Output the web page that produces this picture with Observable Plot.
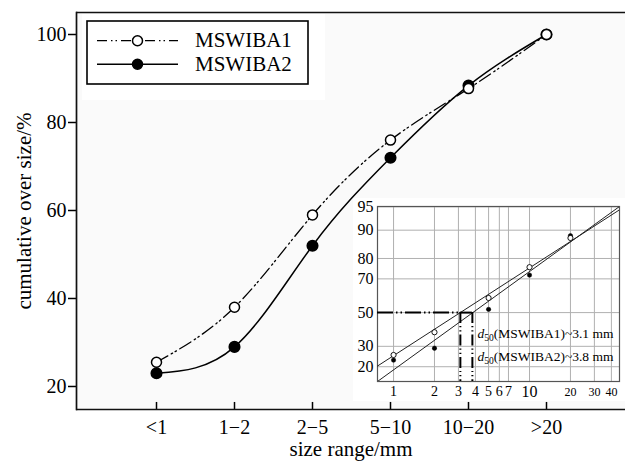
<!DOCTYPE html>
<html><head><meta charset="utf-8">
<script src="https://cdn.jsdelivr.net/npm/d3@7"></script>
<script src="https://cdn.jsdelivr.net/npm/@observablehq/plot@0.6"></script>
<style>
body{margin:0;background:#fff;}
#wrap{position:relative;width:625px;height:462px;overflow:hidden;font-family:"Liberation Serif","Times New Roman",serif;}
#wrap svg{position:absolute;}
</style></head><body><div id="wrap"></div>
<script>
// ---- data ----
const categories = ["<1", "1−2", "2−5", "5−10", "10−20", ">20"];
const seriesNames = ["MSWIBA1", "MSWIBA2"];
const mswiba1 = [25.5, 38, 59, 76, 87.7, 100];
const mswiba2 = [23, 29, 52, 72, 88.4, 100];
const yTicks = [20, 40, 60, 80, 100];
// inset (log-probability plot)
const insetSizes = [1, 2, 5, 10, 20];
const insetYTicks = [20, 30, 50, 70, 80, 90, 95];
const insetXTicks = [1, 2, 3, 4, 5, 6, 7, 10, 20, 30, 40];
const d50 = [3.1, 3.8];
const fitX = [0.762, 45.9];
const fit1 = [20.3, 94.5];
const fit2 = [14.2, 95.05];

const FONT = '"Liberation Serif","Times New Roman",serif';
const wrap = document.getElementById("wrap");

// ---- main plot ----
const yMin = 14.77, yMax = 105;
const s1 = categories.map((c, i) => ({cat: c, v: mswiba1[i]}));
const s2 = categories.map((c, i) => ({cat: c, v: mswiba2[i]}));

const main = Plot.plot({
  width: 625, height: 462,
  marginLeft: 76, marginTop: 12, marginBottom: 53, marginRight: 0,
  style: {fontFamily: FONT, background: "transparent", color: "black"},
  x: {type: "point", domain: categories, padding: 1},
  y: {domain: [yMin, yMax]},
  marks: [
    Plot.frame({fill: "#fafafa", stroke: null}),
    Plot.line(s2, {x: "cat", y: "v", curve: "natural", stroke: "black", strokeWidth: 1.5}),
    Plot.line(s1, {x: "cat", y: "v", curve: "natural", stroke: "black", strokeWidth: 1.3, strokeDasharray: "13,4,1.5,3,1.5,4"}),
    Plot.dot(s2, {x: "cat", y: "v", r: 5.3, fill: "black", stroke: "black"}),
    Plot.dot(s1, {x: "cat", y: "v", r: 5, fill: "white", stroke: "black", strokeWidth: 1.5}),
    Plot.axisY(yTicks, {tickSize: 8, tickPadding: 2, fontSize: 20, label: null, strokeWidth: 1.5}),
    Plot.axisX({tickSize: 0, tickPadding: 10, fontSize: 20, label: null}),
    Plot.ruleX(categories, {x: d => d, y1: yMin, y2: yMin + 1.6, stroke: "black", strokeWidth: 1.5}),
    Plot.ruleY([yMin, yMax], {stroke: "#111", strokeWidth: 1.7}),
    Plot.frame({anchor: "left", stroke: "#111", strokeWidth: 1.7}),
    Plot.text(["cumulative over size/%"], {frameAnchor: "left", rotate: -90, dx: -52, textAnchor: "middle", lineAnchor: "middle", fontSize: 21, text: d => d}),
    Plot.text(["size range/mm"], {frameAnchor: "bottom", dy: 40, textAnchor: "middle", lineAnchor: "middle", fontSize: 21, text: d => d})
  ]
});
main.style.left = "0px"; main.style.top = "0px";
wrap.appendChild(main);

// ---- legend ----
const leg = d3.create("svg").attr("width", 250).attr("height", 90)
  .style("left", "80px").style("top", "12px");
leg.append("rect").attr("x", 2).attr("y", 2).attr("width", 243).attr("height", 86).attr("fill", "white");
leg.append("rect").attr("x", 7).attr("y", 9).attr("width", 221).attr("height", 63)
  .attr("fill", "white").attr("stroke", "black").attr("stroke-width", 1.6);
const rowsY = [28.7, 52.3];
seriesNames.forEach((name, i) => {
  const g = leg.append("g");
  g.append("line").attr("x1", 17).attr("x2", 98).attr("y1", rowsY[i]).attr("y2", rowsY[i])
    .attr("stroke", "black").attr("stroke-width", i === 0 ? 1.3 : 1.5)
    .attr("stroke-dasharray", i === 0 ? "10,4,1.5,3,1.5,4" : null);
  g.append("circle").attr("cx", 57.5).attr("cy", rowsY[i]).attr("r", 5)
    .attr("fill", i === 0 ? "white" : "black").attr("stroke", "black").attr("stroke-width", 1.5);
  g.append("text").attr("x", 115).attr("y", rowsY[i] + 6.7).attr("font-size", 21)
    .attr("font-family", FONT).text(name);
});
wrap.appendChild(leg.node());

// ---- inset ----
function probit(p) {
  const a=[-3.969683028665376e+01,2.209460984245205e+02,-2.759285104469687e+02,1.383577518672690e+02,-3.066479806614716e+01,2.506628277459239e+00];
  const b=[-5.447609879822406e+01,1.615858368580409e+02,-1.556989798598866e+02,6.680131188771972e+01,-1.328068155288572e+01];
  const c=[-7.784894002430293e-03,-3.223964580411365e-01,-2.400758277161838e+00,-2.549732539343734e+00,4.374664141464968e+00,2.938163982698783e+00];
  const d=[7.784695709041462e-03,3.224671290700398e-01,2.445134137142996e+00,3.754408661907416e+00];
  const pl = 0.02425, ph = 1 - pl;
  let q, r;
  if (p < pl) { q = Math.sqrt(-2*Math.log(p)); return (((((c[0]*q+c[1])*q+c[2])*q+c[3])*q+c[4])*q+c[5])/((((d[0]*q+d[1])*q+d[2])*q+d[3])*q+1); }
  if (p <= ph) { q = p - 0.5; r = q*q; return (((((a[0]*r+a[1])*r+a[2])*r+a[3])*r+a[4])*r+a[5])*q/(((((b[0]*r+b[1])*r+b[2])*r+b[3])*r+b[4])*r+1); }
  q = Math.sqrt(-2*Math.log(1-p)); return -(((((c[0]*q+c[1])*q+c[2])*q+c[3])*q+c[4])*q+c[5])/((((d[0]*q+d[1])*q+d[2])*q+d[3])*q+1);
}
const z = pct => probit(pct / 100);
const zLo = z(14.2), zHi = z(95.05);

const p1 = insetSizes.map((s, i) => ({x: s, y: z(mswiba1[i])}));
const p2 = insetSizes.map((s, i) => ({x: s, y: z(mswiba2[i])}));
const f1 = fitX.map((x, i) => ({x, y: z(fit1[i])}));
const f2 = fitX.map((x, i) => ({x, y: z(fit2[i])}));
const ann = d50.map((v, i) => ({x: d50[1], y: z(i === 0 ? 37.4 : 24.8), t: `(${seriesNames[i]})~${v} mm`}));
const xLabelSize = d => d === 10 ? 16 : d >= 20 ? 12 : 14;

const inset = Plot.plot({
  width: 272, height: 203,
  marginLeft: 24, marginRight: 6, marginTop: 8, marginBottom: 20,
  style: {fontFamily: FONT, background: "white", color: "black", overflow: "visible"},
  x: {type: "log", domain: fitX, axis: null},
  y: {domain: [zLo, zHi], axis: null},
  marks: [
    Plot.ruleX(insetXTicks, {x: d => d, stroke: "#b0b0b0", strokeWidth: 1}),
    Plot.ruleY(insetYTicks, {y: d => z(d), stroke: "#b0b0b0", strokeWidth: 1}),
    Plot.frame({stroke: "#555", strokeWidth: 1.2}),
    Plot.line(f1, {x: "x", y: "y", stroke: "#222", strokeWidth: 1, clip: true}),
    Plot.line(f2, {x: "x", y: "y", stroke: "#222", strokeWidth: 1, clip: true}),
    Plot.ruleY([50], {y: d => z(d), x1: fitX[0], x2: d50[0], stroke: "black", strokeWidth: 2, strokeDasharray: "16,3,1.5,3,1.5,3"}),
    Plot.ruleY([50], {y: d => z(d), x1: d50[0], x2: d50[1], stroke: "black", strokeWidth: 2}),
    Plot.ruleX(d50, {x: d => d, y1: z(50), y2: zLo, stroke: "black", strokeWidth: 2, strokeDasharray: "11,3,1.2,3,1.2,3"}),
    Plot.dot(p2, {x: "x", y: "y", r: 2.2, fill: "black", stroke: "black", strokeWidth: 0.5}),
    Plot.dot(p1, {x: "x", y: "y", r: 2.6, fill: "white", stroke: "black", strokeWidth: 0.9}),
    Plot.text(insetYTicks, {y: d => z(d), frameAnchor: "left", dx: -4, textAnchor: "end", lineAnchor: "middle", text: d => String(d), fontSize: 16}),
    Plot.text(insetXTicks, {x: d => d, frameAnchor: "bottom", dy: 10.5, textAnchor: "middle", lineAnchor: "middle", text: d => String(d), fontSize: xLabelSize}),
    Plot.text(ann, {x: "x", y: "y", text: "t", dx: 5, textAnchor: "start", lineAnchor: "middle", fontSize: 13.5, className: "d50ann"})
  ]
});
d3.select(inset).selectAll(".d50ann text").each(function() {
  const t = d3.select(this);
  const rest = t.text();
  t.text(null);
  t.append("tspan").attr("font-style", "italic").text("d");
  t.append("tspan").attr("font-size", "9.5px").attr("dy", "3.5").text("50");
  t.append("tspan").attr("dy", "-3.5").text(rest);
});
inset.style.left = "353px"; inset.style.top = "198px";
wrap.appendChild(inset);
</script>
</body></html>
